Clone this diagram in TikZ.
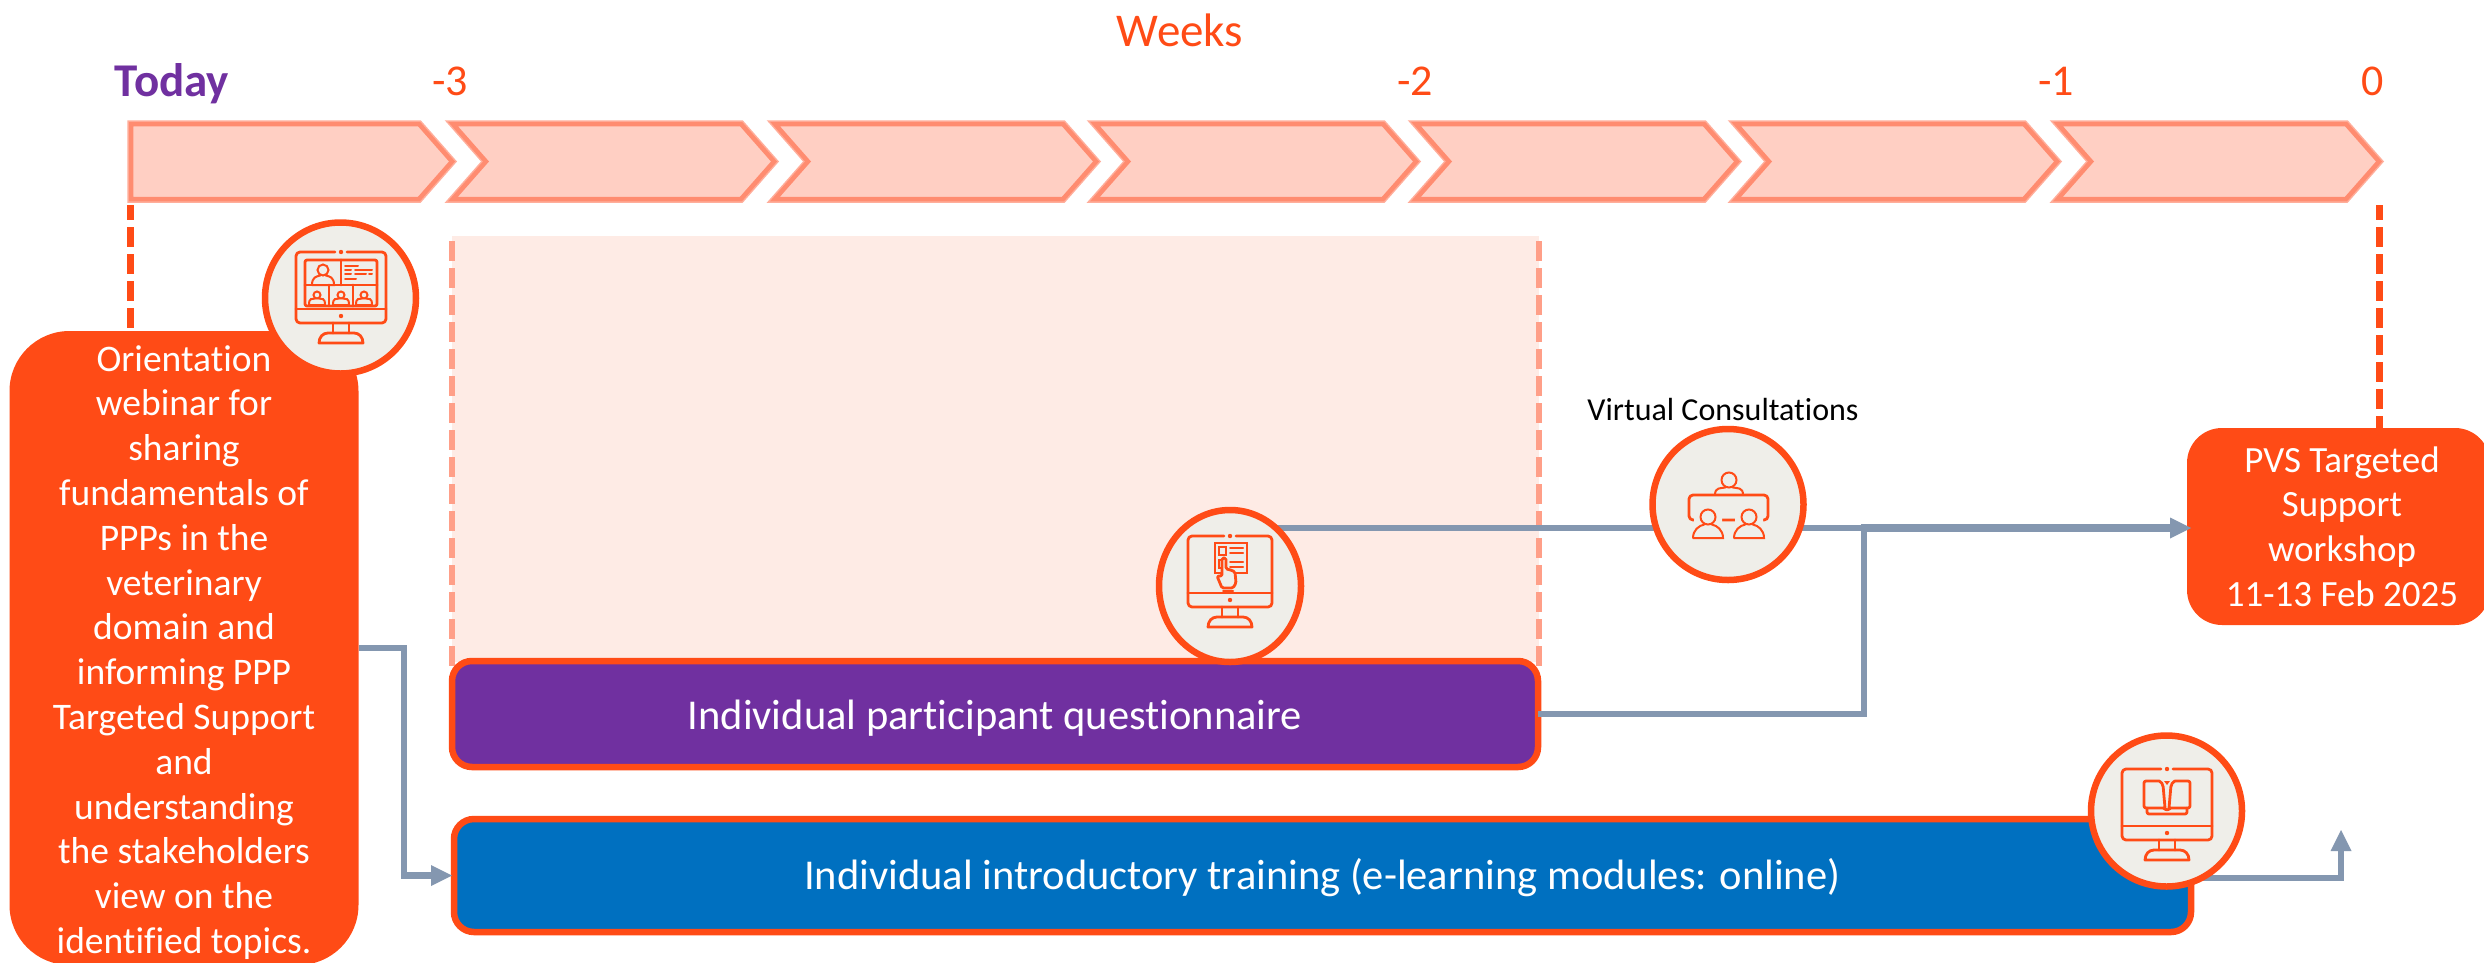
\documentclass[tikz,border=0pt]{standalone}
\usepackage{fontspec}
\setmainfont[RawFeature={-liga;-clig;-dlig}]{Carlito}
\usetikzlibrary{arrows.meta,shapes.geometric}
\pgfdeclarelayer{top}
\pgfsetlayers{main,top}
\definecolor{orng}{HTML}{FF4B16}
\definecolor{chevfill}{HTML}{FFCFC3}
\definecolor{chevline}{HTML}{FF8C70}
\definecolor{chevrim}{HTML}{FFAE9B}
\definecolor{pinkbg}{HTML}{FEEBE5}
\definecolor{pinkdash}{HTML}{FF9F88}
\definecolor{purp}{HTML}{7030A0}
\definecolor{blu}{HTML}{0070C0}
\definecolor{greyb}{HTML}{8497B0}
\definecolor{iconbg}{HTML}{EFEEE9}
\tikzset{
  chev/.style={fill=chevfill,draw=chevline,line width=4.5pt,miter limit=10,
    preaction={draw=chevrim,line width=7.5pt}},
  orangedash/.style={draw=orng,line width=6.5pt,dash pattern=on 20pt off 7pt},
  pinkdashed/.style={draw=pinkdash,line width=6pt,dash pattern=on 20pt off 7pt},
  conn/.style={draw=greyb,line width=6.5pt,line join=miter},
  connthick/.style={draw=greyb,line width=8pt},
  headed/.style={-{Triangle[length=21pt,width=21pt,line width=0pt]}},
  mainbox/.style={draw=orng,line width=6.5pt,rounded corners=20pt,inner sep=0pt,outer sep=0pt,text=white},
  softbox/.style={fill=orng,rounded corners=#1,inner sep=0pt,outer sep=0pt,text=white},
  iconcirc/.style={ellipse,draw=orng,fill=iconbg,line width=6.5pt,inner sep=0pt},
  il/.style={draw=orng,line width=2.8pt,line join=round,line cap=round,rounded corners=2pt},
  ilthin/.style={draw=orng,line width=2pt,line cap=round},
  weeklabel/.style={text=orng,font=\fontsize{44}{50}\selectfont,inner sep=0pt,anchor=base},
}
\newcommand{\monitorshape}[1]{%
  \draw[il,rounded corners=4pt] (-6,0) -- (-#1,0) -- (-#1,71) -- (#1,71) -- (#1,0) -- (6,0);
  \draw[il] (-#1,57) -- (#1,57);
  \fill[orng] (0,0) circle (2.2pt) (0,64) circle (2.2pt);
  \draw[il] (-8,71) -- (-8,81) (8,71) -- (8,81);
  \draw[il,rounded corners=0pt] (-22,91) .. controls (-22,85) and (-18,81) .. (-13,81) -- (13,81) .. controls (18,81) and (22,85) .. (22,91) -- cycle;
}
\newcommand{\personshape}[5]{% x, head y, head r, half width, bottom y
  \draw[ilthin] (#1,#2) circle (#3pt);
  \draw[ilthin] (#1-#4,#5) .. controls (#1-#4,#5-8) and (#1-#4*0.6,#2+#3+1) .. (#1-#3*0.5,#2+#3) (#1+#3*0.5,#2+#3) .. controls (#1+#4*0.6,#2+#3+1) and (#1+#4,#5-8) .. (#1+#4,#5) -- (#1-#4,#5);
}
\begin{document}
\begin{tikzpicture}[x=1pt,y=-1pt]
\clip (0,0) rectangle (2484,962);
\fill[white] (0,0) rectangle (2484,962);

% chevrons
\draw[chev] (131,124) -- (419,124) -- (452,161.5) -- (419,199) -- (131,199) -- cycle;
\foreach \t in {774,1096,1416,1737,2057,2379}{
  \draw[chev] (\t-321,124) -- (\t-33,124) -- (\t,161.5) -- (\t-33,199) -- (\t-321,199) -- (\t-288,161.5) -- cycle;
}

% labels
\node[weeklabel,font=\fontsize{47}{52}\selectfont] (weeks) at (1180,46) {Weeks};
\node[inner sep=0pt,anchor=base,text=purp,font=\fontsize{47}{52}\selectfont\bfseries] (today) at (172,96) {Today};
\node[weeklabel] (w3) at (450,95) {-3};
\node[weeklabel] (w2) at (1415,95) {-2};
\node[weeklabel] (w1) at (2056,95) {-1};
\node[weeklabel] (w0) at (2373,95) {0};

% pink band
\fill[pinkbg] (452,236) rectangle (1539,662);
\coordinate (pa) at (452,241);
\coordinate (pb) at (452,668);
\coordinate (pc) at (1539,241);
\coordinate (pd) at (1539,668);
\draw[pinkdashed] (pa) -- (pb);
\draw[pinkdashed] (pc) -- (pd);

% timeline dashes
\coordinate (da) at (130.5,205);
\coordinate (db) at (130.5,332);
\coordinate (dc) at (2379.5,205);
\coordinate (dd) at (2379.5,430);
\draw[orangedash,dash phase=5pt] (da) -- (db);
\draw[orangedash,dash phase=5pt] (dc) -- (dd);

% main boxes
\node[softbox=60pt,minimum width=349pt,minimum height=634pt,anchor=north west] (orient) at (9.5,331) {\parbox[c][634pt][c]{345pt}{\vspace*{9pt}\centering\fontsize{37.5}{44.8}\selectfont
Orientation\\webinar for\\sharing\\fundamentals of\\PPPs in the\\veterinary\\domain and\\informing PPP\\Targeted Support\\and\\understanding\\the stakeholders\\view on the\\identified topics.}};
\node[softbox=35pt,minimum width=303pt,minimum height=197pt,anchor=north west] (pvs) at (2187,428) {\hspace*{7pt}\parbox{290pt}{\centering\fontsize{37}{44.8}\selectfont
PVS Targeted\\Support\\workshop\\11-13 Feb 2025}};
\node[mainbox,fill=purp,minimum width=1086pt,minimum height=106pt,anchor=north west,font=\fontsize{42.5}{48}\selectfont,text height=40pt,text depth=10pt] (quest) at (452,661) {Individual participant questionnaire};
\node[mainbox,fill=blu,minimum width=1737pt,minimum height=113pt,anchor=north west,font=\fontsize{42.5}{48}\selectfont,text height=37pt,text depth=10pt] (train) at (454,819) {Individual introductory training (e-learning modules: online)};
\node[inner sep=0pt,anchor=base,font=\fontsize{32}{36}\selectfont] (vc) at (1723,420) {Virtual Consultations};

% icon circles (above the connectors)
\begin{pgfonlayer}{top}
\node[iconcirc,minimum width=151pt,minimum height=151pt] (ic1) at (340.5,298) {};
\node[iconcirc,minimum width=142pt,minimum height=152pt] (ic2) at (1230,586) {};
\node[iconcirc,minimum width=151pt,minimum height=151pt] (ic3) at (1728,504.5) {};
\node[iconcirc,minimum width=151pt,minimum height=151pt] (ic4) at (2166.5,811) {};

% icon 1: webinar monitor
\begin{scope}[shift={(341,252)}]
\monitorshape{45}
\draw[il] (-36,8) rectangle (36,54);
\draw[il] (-36,33) -- (36,33) (0,8) -- (0,33) (-12,33) -- (-12,54) (12,33) -- (12,54);
\personshape{-18}{18}{5.5}{11}{33}
\personshape{-24}{43}{3.5}{8}{53}
\personshape{0}{43}{3.5}{8}{53}
\personshape{23}{43}{3.5}{8}{53}
\draw[ilthin] (4,14) -- (17,14) (4,18) -- (10,18) (14,18) -- (31,18) (4,22) -- (10,22) (14,22) -- (25,22) (28,22) -- (31,22) (4,27) -- (15,27);
\end{scope}

% icon 2: questionnaire monitor
\begin{scope}[shift={(1230,536)}]
\monitorshape{42}
\draw[ilthin] (-15,7) rectangle (17,37);
\draw[ilthin] (-11,11) rectangle (-4,19) (-11,24) rectangle (-4,32);
\draw[ilthin] (0,12) -- (13,12) (0,17) -- (13,17) (0,26) -- (13,26) (0,31) -- (13,31);
\draw[il,fill=iconbg,rounded corners=1.5pt] (-8,22) -- (-4,22) -- (-4,33) -- (1,34) -- (5,36) -- (6,47) -- (3,52) -- (-8,52) -- (-13,40) -- (-8,40) -- cycle;
\draw[ilthin] (-7,55) -- (3,55);
\end{scope}

% icon 3: meeting
\begin{scope}[shift={(1728,504)}]
\personshape{1}{-24}{7.5}{14}{-9}
\draw[il,fill=iconbg,rounded corners=4pt] (-39,-9) rectangle (40,16);
\fill[iconbg] (-34,4) rectangle (-6,32) (7,4) rectangle (35,32);
\personshape{-20}{13}{7.5}{15}{34}
\personshape{21}{13}{7.5}{15}{34}
\end{scope}

% icon 4: book monitor
\begin{scope}[shift={(2167,769)}]
\monitorshape{45}
\draw[il] (-2,39) -- (-4,16) .. controls (-6,13) and (-8,12) .. (-10,12) -- (-23,12) -- (-23,39) -- (-2,39) -- (0,42) -- (2,39) -- (23,39) -- (23,12) -- (10,12) .. controls (8,12) and (6,13) .. (4,16) -- (2,39);
\draw[il] (-20,39) -- (-20,45) -- (20,45) -- (20,39);
\fill[orng] (0,12) -- (-3,12) -- (0,16) -- (3,12) -- cycle;
\end{scope}
\end{pgfonlayer}

% connectors
\coordinate (jn) at (1864,528);
\coordinate (tr) at (2341,878);
\coordinate (trend) at (2341,830);
\coordinate (ob) at (404,648);
\draw[conn,headed] (orient.east |- ob) -- (ob) -- (ob |- train.west) -- ([xshift=-2pt]train.west);
\draw[conn] (ic2 |- jn) -- (jn);
\draw[conn] (quest.east) -- (quest.east -| jn) -- (jn);
\draw[connthick,headed] ([xshift=-3pt]jn) -- ([xshift=4pt]pvs.west |- jn);
\draw[conn,headed] (train.east |- tr) -- (tr) -- (trend);
\end{tikzpicture}
\end{document}
